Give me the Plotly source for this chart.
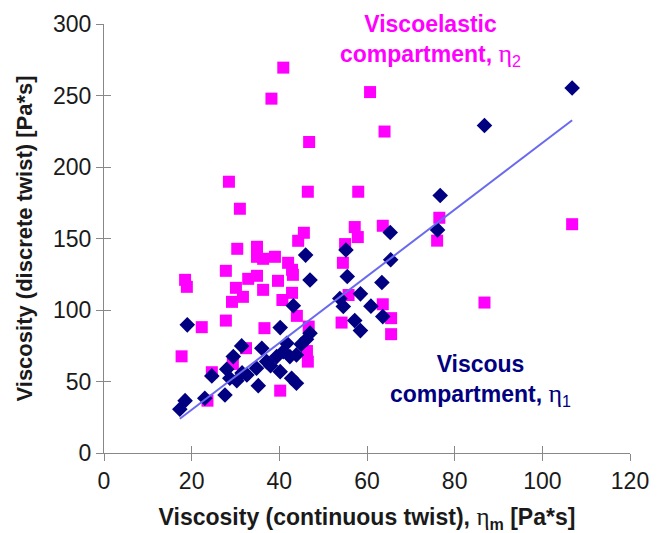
import numpy as np
import plotly.graph_objects as go

# Viscous compartment (eta_1): continuous-twist vs discrete-twist viscosity
eta1_x = [106.8, 86.8, 76.7, 76.1, 65.3, 65.4, 55.5, 63.4, 58.5, 53.8, 60.9, 54.6,
          55.2, 46.0, 47.0, 43.2, 63.6, 57.2, 58.5, 19.0, 40.2, 36.0, 31.4, 29.5,
          46.2, 47.0, 41.7, 28.0, 28.7, 30.3, 32.6, 34.8, 37.1, 39.4, 40.9, 42.4,
          43.9, 40.2, 42.8, 43.9, 35.2, 27.6, 23.0, 18.5, 17.3, 24.6, 31.5, 38.0, 45.0]
eta1_y = [255.2, 229.0, 180.1, 156.0, 154.2, 135.1, 123.4, 119.2, 111.3, 108.0, 102.7, 102.4,
          142.0, 138.4, 121.0, 103.0, 95.4, 92.6, 85.6, 89.6, 87.7, 73.3, 74.9, 67.4,
          79.6, 83.8, 76.8, 58.6, 52.3, 50.6, 54.6, 59.3, 63.9, 67.4, 70.9, 67.4,
          68.6, 56.9, 52.3, 48.8, 47.1, 40.6, 38.3, 36.6, 30.6, 53.9, 56.0, 61.0, 76.0]

# Viscoelastic compartment (eta_2)
eta2_x = [40.9, 38.2, 46.8, 60.7, 64.0, 28.5, 46.5, 58.0, 31.0, 45.6, 44.3, 57.2,
          57.9, 55.0, 63.6, 30.4, 34.9, 34.9, 36.3, 39.0, 42.0, 42.9, 43.1, 54.5,
          27.8, 18.5, 18.9, 34.9, 32.9, 39.7, 30.1, 36.3, 42.9, 31.7, 29.2, 40.7,
          55.8, 76.5, 76.0, 106.8, 86.8, 63.6, 65.5, 65.5, 54.2, 22.3, 27.8, 36.6,
          44.0, 46.7, 32.4, 17.7, 46.3, 46.5, 29.4, 24.6, 40.2, 23.6]
eta2_y = [269.5, 247.8, 217.5, 252.4, 224.8, 189.7, 182.7, 182.7, 170.8, 154.0, 148.4, 158.0,
          151.0, 146.1, 158.9, 142.8, 144.2, 137.2, 135.8, 137.2, 133.0, 128.1, 124.6, 133.0,
          127.4, 121.1, 116.2, 123.9, 121.8, 120.4, 115.5, 114.1, 112.0, 109.2, 105.7, 107.0,
          110.5, 164.5, 148.5, 160.0, 105.2, 104.0, 94.3, 83.1, 91.2, 88.0, 92.6, 87.3,
          95.9, 88.4, 73.3, 67.6, 71.3, 63.9, 62.3, 56.5, 43.6, 36.6]

x_ticks = [0, 20, 40, 60, 80, 100, 120]
y_ticks = [0, 50, 100, 150, 200, 250, 300]

FONT = "Liberation Sans, Arial, sans-serif"
SERIF = "Liberation Serif, Times New Roman, serif"
MAGENTA = "#ff00ff"
NAVY = "#000080"
INK = "#1a1a1a"

# Linear trend through the viscous compartment
slope, intercept = np.polyfit(eta1_x, eta1_y, 1)
fit_x = np.array([min(eta1_x), max(eta1_x)])
fit_y = slope * fit_x + intercept

fig = go.Figure()
fig.add_trace(go.Scatter(x=eta2_x, y=eta2_y, mode="markers",
                         marker=dict(symbol="square", size=12, color=MAGENTA),
                         showlegend=False, cliponaxis=False))
fig.add_trace(go.Scatter(x=eta1_x, y=eta1_y, mode="markers",
                         marker=dict(symbol="diamond", size=12, color=NAVY),
                         showlegend=False, cliponaxis=False))
fig.add_trace(go.Scatter(x=fit_x, y=fit_y, mode="lines",
                         line=dict(color="#6a6aee", width=2),
                         showlegend=False))


def eta(size):
    return ("<span style='font-family:%s;font-weight:normal;font-size:%dpx'>η</span>"
            % (SERIF, size))


axis_common = dict(showgrid=False, zeroline=False, showline=True, linecolor="#888888",
                   linewidth=1, ticks="outside", ticklen=7, tickcolor="#888888",
                   automargin=False,
                   tickfont=dict(family=FONT, size=23, color=INK))

fig.update_layout(
    width=659, height=533,
    margin=dict(l=104, r=29, t=24, b=80),
    paper_bgcolor="white", plot_bgcolor="white",
    xaxis=dict(range=[0, 120], tickvals=x_ticks, **axis_common,
               title=dict(text="<b>Viscosity (continuous twist), </b>" + eta(25)
                               + "<b><sub>m</sub> [Pa*s]</b>",
                          font=dict(family=FONT, size=23, color=INK), standoff=20)),
    yaxis=dict(range=[0, 300], tickvals=y_ticks, **axis_common,
               title=dict(text="<b>Viscosity (discrete twist) [Pa*s]</b>",
                          font=dict(family=FONT, size=22, color=INK), standoff=14)),
    # companion axes give the cross-style tick marks
    xaxis2=dict(range=[0, 120], tickvals=x_ticks, overlaying="x", anchor="y", side="bottom",
                showgrid=False, zeroline=False, showline=False, showticklabels=False,
                ticks="inside", ticklen=7, tickcolor="#888888"),
    yaxis2=dict(range=[0, 300], tickvals=y_ticks, overlaying="y", anchor="x", side="left",
                showgrid=False, zeroline=False, showline=False, showticklabels=False,
                ticks="inside", ticklen=7, tickcolor="#888888"),
    annotations=[
        dict(text="<b>Viscoelastic</b><br><b>compartment, </b>" + eta(26) + "<sub>2</sub>",
             xref="paper", yref="paper", x=0.62, y=0.962, showarrow=False,
             xanchor="center", yanchor="middle", align="center",
             font=dict(family=FONT, size=23, color=MAGENTA)),
        dict(text="<b>Viscous</b><br><b>compartment, </b>" + eta(26) + "<sub>1</sub>",
             xref="paper", yref="paper", x=0.715, y=0.168, showarrow=False,
             xanchor="center", yanchor="middle", align="center",
             font=dict(family=FONT, size=23, color=NAVY)),
    ],
)

# empty trace so the companion axes are drawn
fig.add_trace(go.Scatter(x=[None], y=[None], xaxis="x2", yaxis="y2",
                         showlegend=False, hoverinfo="skip"))

fig.write_html("out.html")
